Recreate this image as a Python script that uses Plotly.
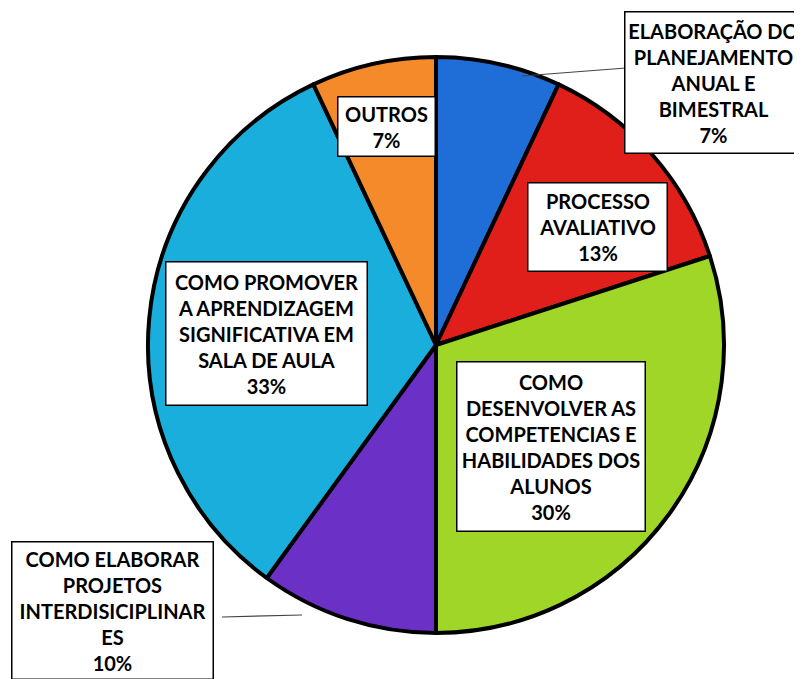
import plotly.graph_objects as go

labels = ["ELABORAÇÃO DO<br>PLANEJAMENTO<br>ANUAL E<br>BIMESTRAL",
          "PROCESSO<br>AVALIATIVO",
          "COMO<br>DESENVOLVER AS<br>COMPETENCIAS E<br>HABILIDADES DOS<br>ALUNOS",
          "COMO ELABORAR<br>PROJETOS<br>INTERDISICIPLINAR<br>ES",
          "COMO PROMOVER<br>A APRENDIZAGEM<br>SIGNIFICATIVA EM<br>SALA DE AULA",
          "OUTROS"]
values = [7, 13, 30, 10, 33, 7]
colors = ["#1F6ED8", "#E01F1B", "#9FD627", "#6B30C6", "#19AEDB", "#F58A2B"]

W, H = 802, 679
OFF = 8  # page body margin offset in the browser


def px(x):
    return (x - OFF) / W


def py(y):
    return 1 - (y - OFF) / H


# label boxes: center x, center y, width, height (pixels, screen coords)
boxes = [(713, 82, 176, 140), (597, 227, 138, 87), (551, 446, 187, 168),
         (112, 610, 200, 136), (266, 333, 200, 142), (386, 126, 96, 58)]

cx, cy, r = 436, 345, 288
fig = go.Figure(go.Pie(
    labels=labels, values=values, sort=False, direction="clockwise", rotation=0,
    marker=dict(colors=colors, line=dict(color="black", width=4)),
    textinfo="none", hoverinfo="label+percent",
    domain=dict(x=[px(cx - r), px(cx + r)], y=[py(cy + r), py(cy - r)]),
    showlegend=False,
))

for lab, val, (bx, by, bw, bh) in zip(labels, values, boxes):
    fig.add_annotation(
        x=px(bx), y=py(by), xref="paper", yref="paper",
        text=f"<b>{lab}<br>{val}%</b>", showarrow=False,
        font=dict(family="Lato", size=20, color="black"),
        bgcolor="white", bordercolor="black", borderwidth=1.5, borderpad=0,
        width=bw, height=bh,
        align="center", valign="middle", xanchor="center", yanchor="middle",
    )

# leader lines
fig.add_shape(type="line", xref="paper", yref="paper",
              x0=px(522), y0=py(76), x1=px(626), y1=py(68),
              line=dict(color="#444444", width=1.2))
fig.add_shape(type="line", xref="paper", yref="paper",
              x0=px(222), y0=py(617), x1=px(302), y1=py(615),
              line=dict(color="#444444", width=1.2))

fig.update_layout(width=W, height=H, margin=dict(l=0, r=0, t=0, b=0),
                  paper_bgcolor="white", plot_bgcolor="white")
fig.write_html("out.html")
